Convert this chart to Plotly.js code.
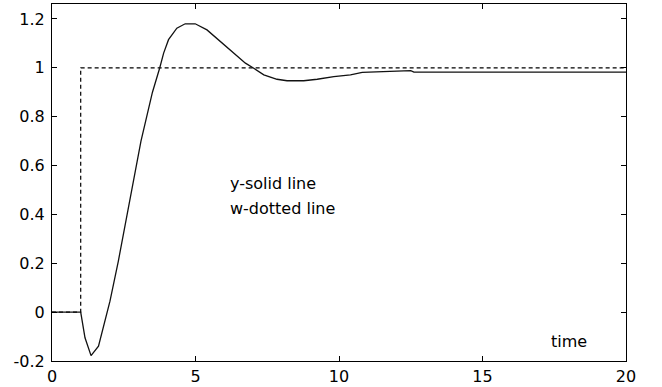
<!DOCTYPE html>
<html>
<head>
<meta charset="utf-8">
<script src="https://cdn.plot.ly/plotly-3.0.1.min.js"></script>
<style>html,body{margin:0;padding:0;background:#fff;}</style>
</head>
<body>
<div id="chart" style="width:662px;height:387px;"></div>
<script>
const timeY = [0, 1, 1.15, 1.36, 1.62, 1.85, 2.02, 2.31, 2.55, 2.72, 2.9, 3.1, 3.3, 3.5, 3.75, 3.89, 4.06, 4.35, 4.64, 4.99, 5.4, 5.86, 6.33, 6.74, 7.03, 7.38, 7.84, 8.19, 8.77, 9.24, 9.82, 10.4, 10.81, 11.56, 11.8, 12.5, 12.61, 20];
const ySolid = [0, 0, -0.105, -0.178, -0.139, -0.037, 0.045, 0.208, 0.358, 0.475, 0.585, 0.7, 0.8, 0.9, 0.998, 1.06, 1.115, 1.162, 1.18, 1.18, 1.155, 1.107, 1.06, 1.019, 0.998, 0.971, 0.953, 0.947, 0.947, 0.953, 0.964, 0.971, 0.981, 0.984, 0.988, 0.988, 0.982, 0.982];
const timeW = [0, 1, 1, 20];
const wDotted = [0, 0, 1, 1];
const xTicks = [0, 5, 10, 15, 20];
const yTicks = [-0.2, 0, 0.2, 0.4, 0.6, 0.8, 1, 1.2];
const yTickText = ['-0.2', '0', '0.2', '0.4', '0.6', '0.8', '1', '1.2'];
const labels = ['y-solid line', 'w-dotted line', 'time'];

const font = {family: 'DejaVu Sans, sans-serif', size: 16, color: '#000'};

const traces = [
  {x: timeW, y: wDotted, mode: 'lines', line: {color: '#000', width: 1.2, dash: '4px,3px'}, hoverinfo: 'skip'},
  {x: timeY, y: ySolid, mode: 'lines', line: {color: '#111', width: 1.3}, hoverinfo: 'skip'}
];

const axisCommon = {
  showgrid: false, zeroline: false, showline: true, linecolor: '#000', linewidth: 1,
  mirror: 'allticks', ticks: 'inside', ticklen: 5, tickcolor: '#000', tickwidth: 1,
  tickfont: font
};

const layout = {
  width: 662, height: 387,
  margin: {l: 52, r: 36, t: 4, b: 26, pad: 0},
  paper_bgcolor: '#fff', plot_bgcolor: '#fff',
  showlegend: false,
  font: font,
  xaxis: Object.assign({}, axisCommon, {range: [0, 20], tickvals: xTicks, ticktext: xTicks.map(String), ticklabelstandoff: 1}),
  yaxis: Object.assign({}, axisCommon, {range: [-0.2, 1.261], tickvals: yTicks, ticktext: yTickText, ticklabelstandoff: 3}),
  annotations: [
    {x: 6.14, y: 0.527, xref: 'x', yref: 'y', text: labels[0], showarrow: false, xanchor: 'left', yanchor: 'middle', font: font},
    {x: 6.14, y: 0.425, xref: 'x', yref: 'y', text: labels[1], showarrow: false, xanchor: 'left', yanchor: 'middle', font: font},
    {x: 17.32, y: -0.12, xref: 'x', yref: 'y', text: labels[2], showarrow: false, xanchor: 'left', yanchor: 'middle', font: font}
  ]
};

Plotly.newPlot('chart', traces, layout, {displayModeBar: false, staticPlot: true});
</script>
</body>
</html>
